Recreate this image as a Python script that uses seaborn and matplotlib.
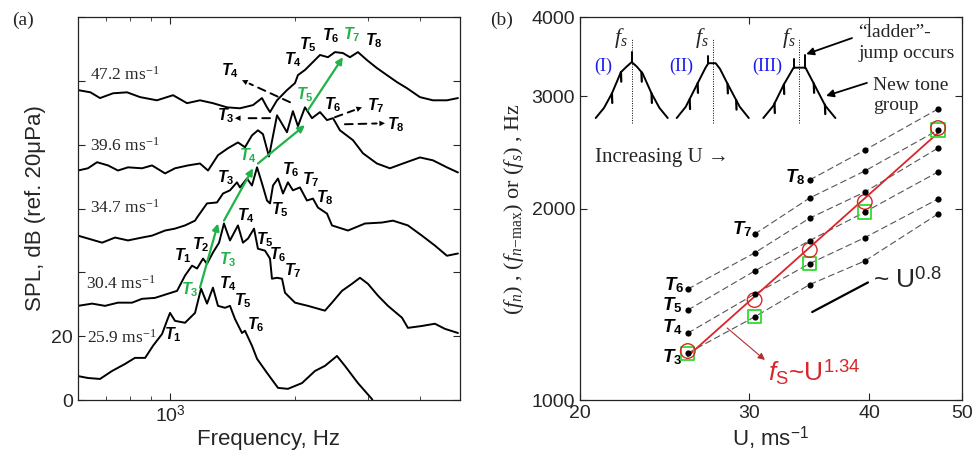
import numpy as np
import matplotlib.pyplot as plt
import matplotlib.ticker as mticker
import seaborn as sns

# ---- (a) SPL spectra (stacked), frequency in Hz, level in dB as plotted
freq_259 = [600, 634, 678, 725, 779, 823, 871, 910, 957, 983, 1000, 1028, 1087, 1149, 1188, 1228,
            1269, 1305, 1357, 1395, 1434, 1491, 1516, 1576, 1621, 1713, 1821, 1924, 2080, 2236,
            2363, 2526, 2640, 2838, 3067, 3130]
spl_259 = [7.5, 6.9, 6.6, 9.1, 11.3, 13.2, 13.2, 17.0, 20.7, 24.8, 27.3, 24.8, 24.2, 27.3, 34.9, 30.2,
           35.2, 29.5, 28.9, 29.5, 25.4, 21.0, 21.7, 17.0, 12.9, 8.5, 3.8, 3.5, 5.3, 9.1,
           10.7, 13.8, 10.7, 5.3, 0.3, -2.0]

freq_304 = [600, 649, 697, 749, 810, 856, 920, 989, 1040, 1087, 1130, 1162, 1201, 1228, 1269,
            1313, 1349, 1395, 1458, 1499, 1542, 1594, 1629, 1694, 1742, 1761, 1811, 1862, 1893, 2001,
            2150, 2363, 2457, 2597, 2745, 2870, 3000, 3171, 3352, 3623, 3745, 4048, 4350, 4598, 4943]
spl_304 = [29.5, 30.2, 29.5, 30.5, 30.5, 31.7, 32.0, 33.3, 34.2, 39.0, 42.1, 41.2, 44.3, 42.7, 46.2,
           49.3, 55.3, 50.0, 54.7, 49.3, 50.6, 53.7, 47.4, 46.8, 44.3, 38.0, 38.3, 38.0, 33.6, 30.5,
           29.5, 28.0, 30.5, 34.2, 36.4, 38.3, 36.4, 32.7, 29.5, 25.8, 22.6, 23.2, 23.9, 22.3, 21.0]

freq_347 = [600, 634, 686, 737, 792, 856, 905, 973, 1028, 1087, 1149, 1162, 1228, 1298, 1342,
            1395, 1450, 1474, 1533, 1576, 1621, 1666, 1713, 1742, 1771, 1821, 1872, 1924, 1978, 2057,
            2138, 2211, 2273, 2390, 2457, 2685, 2951, 3242, 3446, 3745, 4048, 4350, 4650, 4943]
spl_347 = [51.5, 50.6, 49.3, 50.9, 50.0, 50.9, 51.5, 53.1, 53.7, 54.7, 56.2, 57.2, 61.6, 61.9, 64.7,
           65.7, 68.2, 66.6, 69.4, 67.2, 72.9, 67.9, 62.5, 61.6, 67.2, 69.4, 64.7, 68.2, 65.7, 66.6,
           62.5, 63.1, 60.3, 58.4, 54.7, 53.1, 55.3, 55.6, 56.2, 54.7, 51.5, 48.4, 45.2, 45.9]

freq_396 = [600, 634, 667, 709, 749, 792, 856, 905, 973, 1028, 1105, 1181, 1235, 1305, 1380,
            1458, 1516, 1576, 1629, 1675, 1732, 1811, 1914, 1978, 2034, 2115, 2199, 2299, 2390, 2471,
            2568, 2761, 2918, 3153, 3389, 3643, 4003, 4302, 4650, 4943]
spl_396 = [71.9, 72.6, 74.5, 73.5, 71.9, 72.9, 72.6, 73.5, 71.0, 72.6, 73.5, 74.1, 71.9, 76.7, 78.9,
           80.7, 79.2, 82.9, 84.5, 83.3, 76.3, 89.2, 83.9, 90.5, 85.8, 91.7, 88.3, 90.2, 87.7, 88.3,
           84.5, 81.4, 77.3, 74.1, 72.6, 74.1, 76.0, 75.1, 72.9, 71.3]

freq_472 = [600, 643, 678, 729, 788, 847, 930, 1017, 1099, 1181, 1269, 1372, 1474, 1585, 1666,
            1713, 1742, 1811, 1914, 2001, 2034, 2115, 2211, 2299, 2403, 2498, 2611, 2715, 2838, 2983,
            3153, 3333, 3524, 3725, 4003, 4302, 4650, 4943]
spl_472 = [97.1, 96.4, 94.6, 96.1, 96.4, 94.9, 93.9, 95.5, 93.0, 93.9, 93.0, 91.7, 91.4, 92.4, 94.6,
           91.7, 90.2, 93.9, 97.1, 99.3, 101.8, 103.4, 105.9, 108.1, 107.4, 109.0, 108.7, 107.4, 109.0, 106.5,
           104.0, 101.8, 99.6, 97.7, 94.9, 93.9, 93.9, 94.6]

speed_labels = ['25.9', '30.4', '34.7', '39.6', '47.2']

# ---- (b) tone frequencies vs flow speed
U = [25.9, 30.4, 34.7, 39.6, 47.2]
tones = {
    3: [1185, 1351, 1519, 1654, 1961],
    4: [1274, 1467, 1639, 1800, 2070],
    5: [1385, 1595, 1781, 1975, 2283],
    6: [1494, 1703, 1932, 2123, 2489],
    7: [np.nan, 1823, 2078, 2291, 2657],
    8: [np.nan, np.nan, 2218, 2471, 2867],
}
f_nmax = [1185, 1351, 1639, 1975, 2657]
f_s = [1194, 1436, 1721, 2048, 2676]

# schematic peaks (normalised) for the three sketches
sk1_x = [-1, -0.77, -0.55, -0.3, -0.14, 0, 0.14, 0.3, 0.55, 0.77, 1]
sk1_y = [0, 0.18, 0.44, 0.82, 0.92, 1.0, 0.92, 0.8, 0.44, 0.18, 0]
sk2_x = [-1, -0.75, -0.42, -0.2, -0.12, 0.08, 0.2, 0.42, 0.75, 1]
sk2_y = [0, 0.2, 0.62, 0.9, 0.98, 0.98, 0.88, 0.6, 0.2, 0]
sk3_x = [-1, -0.72, -0.43, -0.16, 0.17, 0.43, 0.72, 1]
sk3_y = [0, 0.22, 0.6, 0.9, 0.9, 0.58, 0.22, 0]
sk1_teeth = [(-0.55, 0.44), (-0.3, 0.82), (0.27, 0.82), (0.55, 0.44)]
sk2_teeth = [(-0.64, 0.33), (-0.42, 0.62), (0.41, 0.61), (0.65, 0.32)]
sk3_teeth = [(-0.69, 0.26), (-0.43, 0.6), (0.4, 0.62), (0.71, 0.24)]
sk1_spikes = [(0, 1.0, 1.18)]
sk2_spikes = [(-0.12, 0.98, 1.1)]
sk3_spikes = [(-0.16, 0.9, 1.05), (0.17, 0.9, 1.12)]

green = '#1fb34a'
red = '#d8262a'

sns.set_style('ticks')
plt.rcParams['font.family'] = ['Liberation Sans', 'DejaVu Sans']
plt.rcParams['mathtext.fontset'] = 'custom'
plt.rcParams['mathtext.rm'] = 'Liberation Serif'
plt.rcParams['mathtext.it'] = 'Liberation Serif:italic'
plt.rcParams['mathtext.bf'] = 'Liberation Sans:bold:italic'
plt.rcParams['mathtext.tt'] = 'Liberation Sans:bold'
plt.rcParams['mathtext.sf'] = 'Liberation Sans'
plt.rcParams['mathtext.cal'] = 'Liberation Sans:italic'
serif = ['Liberation Serif', 'DejaVu Serif']

fig = plt.figure(figsize=(9.76, 4.57), dpi=100)
axa = fig.add_axes([0.0799, 0.1247, 0.3914, 0.8381])
axb = fig.add_axes([0.5943, 0.1247, 0.3914, 0.8381])


def tlab(ax, x, y, n, color='k', size=11.5):
    ax.annotate(r'$\mathbf{T}_{\mathtt{%d}}$' % n, (x, y), xytext=(-4, 2), textcoords='offset points',
                ha='left', va='center', color=color, fontsize=size)


# ================= (a)
axa.set_xscale('log')
spectra = [(freq_259, spl_259), (freq_304, spl_304), (freq_347, spl_347),
           (freq_396, spl_396), (freq_472, spl_472)]
for f, s in spectra:
    sns.lineplot(x=f, y=s, ax=axa, color='k', lw=1.4, estimator=None, sort=False)

axa.set_xlim(600, 5000)
axa.set_ylim(0, 120)
axa.set_yticks(np.arange(0, 121, 20))
axa.set_yticklabels(['0', '20', '', '', '', '', ''])
axa.xaxis.set_major_locator(mticker.FixedLocator([1000]))
axa.xaxis.set_major_formatter(mticker.FixedFormatter(['10$^{\\mathsf{3}}$']))
axa.xaxis.set_minor_locator(mticker.LogLocator(subs=np.arange(2, 10)))
axa.xaxis.set_minor_formatter(mticker.NullFormatter())
axa.tick_params(which='both', direction='in', top=True, right=True, labelsize=14)
axa.tick_params(which='major', length=5)
axa.tick_params(which='minor', length=3)
axa.set_xlabel('Frequency, Hz', fontsize=16, labelpad=2)
axa.set_ylabel('SPL, dB (ref. 20μPa)', fontsize=16, labelpad=4)

speed_pos = [(631, 19.5), (627, 36.4), (641, 60.3), (641, 79.8), (641, 102.0)]
for lab, (x, y) in zip(speed_labels, speed_pos):
    axa.text(x, y, lab + r' ms$^{-1}$', fontsize=12.5, family=serif, ha='left', va='center')

a_tlabels = [(1000, 19.5, 1, 'k'), (1099, 33.6, 3, green), (1357, 35.5, 4, 'k'), (1474, 30.2, 5, 'k'),
             (1585, 22.6, 6, 'k'),
             (1057, 44.3, 1, 'k'), (1162, 47.8, 2, 'k'), (1357, 43.0, 3, green), (1499, 56.9, 4, 'k'),
             (1666, 49.3, 5, 'k'), (1791, 44.6, 6, 'k'), (1946, 39.6, 7, 'k'),
             (1342, 68.8, 3, 'k'), (1516, 75.7, 4, green), (1811, 58.7, 5, 'k'), (1924, 71.3, 6, 'k'),
             (2150, 68.2, 7, 'k'), (2324, 62.5, 8, 'k'),
             (1342, 88.3, 3, 'k'), (1372, 102.4, 4, 'k'), (2080, 94.9, 5, green), (2430, 91.7, 6, 'k'),
             (3085, 91.4, 7, 'k'), (3446, 85.5, 8, 'k'),
             (1946, 105.6, 4, 'k'), (2110, 110.3, 5, 'k'), (2400, 113.3, 6, 'k'), (2690, 113.7, 7, green),
             (3050, 111.8, 8, 'k')]
for x, y, n, c in a_tlabels:
    tlab(axa, x, y, n, c)

green_arrows = [((1181, 35.2), (1305, 55.3)), ((1349, 56.2), (1585, 72.6)),
                ((1629, 74.1), (2115, 86.1)), ((2150, 90.8), (2611, 107.4))]
for tail, head in green_arrows:
    axa.annotate('', xy=head, xytext=tail,
                 arrowprops=dict(arrowstyle='-|>', color=green, lw=1.6, mutation_scale=10,
                                 shrinkA=0, shrinkB=0))

dash_arrows = [((1946, 93.3), (1491, 100.2)), ((1742, 88.3), (1434, 88.3)),
               ((2498, 88.6), (2902, 91.7)), ((2640, 86.4), (3297, 86.7))]
for tail, head in dash_arrows:
    axa.annotate('', xy=head, xytext=tail,
                 arrowprops=dict(arrowstyle='-', color='k', lw=1.4, ls=(0, (4, 3)),
                                 shrinkA=0, shrinkB=6))
    axa.annotate('', xy=head, xytext=tail,
                 arrowprops=dict(arrowstyle='-|>', color='k', lw=0.01, mutation_scale=10,
                                 shrinkA=0, shrinkB=0, patchA=None))

fig.text(0.012, 0.956, '(a)', fontsize=14, family=serif, ha='left', va='center')

# ================= (b)
axb.set_xscale('log')
axb.set_yscale('log')
for n, vals in tones.items():
    m = ~np.isnan(vals)
    uu = np.array(U)[m]
    vv = np.array(vals)[m]
    sns.lineplot(x=uu, y=vv, ax=axb, color='#555555', lw=0.8, dashes=False, estimator=None,
                 sort=False, linestyle=(0, (6, 3)))

coef = np.polyfit(np.log10(U), np.log10(f_s), 1)
ufit = np.array([U[0], U[-1]])
axb.plot(ufit, 10 ** np.polyval(coef, np.log10(ufit)), color=red, lw=1.3, zorder=3)

sns.scatterplot(x=U, y=f_nmax, ax=axb, marker='s', s=90, facecolor='none', edgecolor='#2ddc2d',
                linewidth=1.3, zorder=4)
sns.scatterplot(x=U, y=f_s, ax=axb, marker='o', s=110, facecolor='none', edgecolor=red,
                linewidth=1.0, zorder=4)
for n, vals in tones.items():
    sns.scatterplot(x=U, y=vals, ax=axb, color='k', s=20, linewidth=0, zorder=5)

axb.set_xlim(20, 50)
axb.set_ylim(1000, 4000)
axb.xaxis.set_major_locator(mticker.FixedLocator([20, 30, 40, 50]))
axb.xaxis.set_major_formatter(mticker.FixedFormatter(['20', '30', '40', '50']))
axb.xaxis.set_minor_locator(mticker.NullLocator())
axb.yaxis.set_major_locator(mticker.FixedLocator([1000, 2000, 3000, 4000]))
axb.yaxis.set_major_formatter(mticker.FixedFormatter(['1000', '2000', '3000', '4000']))
axb.yaxis.set_minor_locator(mticker.NullLocator())
axb.tick_params(which='both', direction='in', top=True, right=True, labelsize=14, length=5)
axb.set_xlabel(r'U, ms$^{\mathsf{-1}}$', fontsize=16, labelpad=2)
axb.set_ylabel(r'$(f_n)$ , $(f_{n\mathrm{-max}})$ or $(f_s)$ , Hz', fontsize=16, family=serif, labelpad=4)

b_tlabels = [(24.82, 1500, 6), (24.7, 1395, 5), (24.7, 1288, 4), (24.7, 1156, 3),
             (29.15, 1837, 7), (33.1, 2218, 8)]
for x, y, n in b_tlabels:
    tlab(axb, x, y, n, 'k', size=13.5)

# ~U^0.8 guide
u1, u2, f1 = 34.9, 39.9, 1375
axb.plot([u1, u2], [f1, f1 * (u2 / u1) ** 0.8], color='k', lw=1.6)
axb.text(40.4, 1544, r'~ U$^{\mathsf{0.8}}$', fontsize=19, ha='left', va='center')

axb.annotate('', xy=(31.16, 1156), xytext=(28.46, 1298),
             arrowprops=dict(arrowstyle='-|>', color='#b03030', lw=0.8, mutation_scale=10,
                             shrinkA=0, shrinkB=0))
axb.text(31.4, 1107, r'$\mathcal{f}_{\mathsf{S}}$~U$^{\mathsf{1.34}}$', color=red, fontsize=19,
         ha='left', va='center')

# sketches
sketches = [(sk1_x, sk1_y, sk1_teeth, sk1_spikes, 0.0306),
            (sk2_x, sk2_y, sk2_teeth, sk2_spikes, 0.2427),
            (sk3_x, sk3_y, sk3_teeth, sk3_spikes, 0.4694)]
for sx, sy, teeth, spikes, x0 in sketches:
    ins = axb.inset_axes([x0, 0.7206, 0.2094, 0.2245])
    ins.set_axis_off()
    ins.set_xlim(-1.11, 1.11)
    ins.set_ylim(-0.107, 1.43)
    ins.plot(sx, sy, color='k', lw=1.4)
    for tx, ty in teeth:
        ins.plot([tx, tx + 0.01], [ty, ty - 0.17], color='k', lw=1.6)
    for px, y0, y1 in spikes:
        ins.plot([px, px], [y0, y1], color='k', lw=1.4)
    ins.plot([0, 0], [-0.09, 1.43], color='k', lw=0.7, ls=(0, (1, 1.5)))
    ins.text(-0.1, 1.43, r'$f_s$', fontsize=16, ha='right', va='center')

for lab, x in [('(I)', 0.060), ('(II)', 0.264), ('(III)', 0.49)]:
    axb.text(x, 0.872, lab, transform=axb.transAxes, color='#1c1cf0', fontsize=13, family=serif,
             ha='center', va='center')

axb.text(0.728, 0.932, '“ladder”-\njump occurs', transform=axb.transAxes, fontsize=14, family=serif,
         ha='left', va='center', linespacing=1.25)
axb.annotate('', xy=(0.592, 0.903), xytext=(0.712, 0.945), xycoords='axes fraction',
             textcoords='axes fraction',
             arrowprops=dict(arrowstyle='-|>', color='k', lw=1.3, mutation_scale=11, shrinkA=0, shrinkB=0))
axb.text(0.767, 0.796, 'New tone\ngroup', transform=axb.transAxes, fontsize=14, family=serif,
         ha='left', va='center', linespacing=1.25)
axb.annotate('', xy=(0.644, 0.794), xytext=(0.751, 0.828), xycoords='axes fraction',
             textcoords='axes fraction',
             arrowprops=dict(arrowstyle='-|>', color='k', lw=1.3, mutation_scale=11, shrinkA=0, shrinkB=0))
axb.text(0.039, 0.634, 'Increasing U →', transform=axb.transAxes, fontsize=15, family=serif,
         ha='left', va='center')

fig.text(0.502, 0.956, '(b)', fontsize=14, family=serif, ha='left', va='center')

for ax in (axa, axb):
    for sp in ax.spines.values():
        sp.set_linewidth(0.9)
        sp.set_color('#222222')

fig.savefig('out.png', dpi=100)
